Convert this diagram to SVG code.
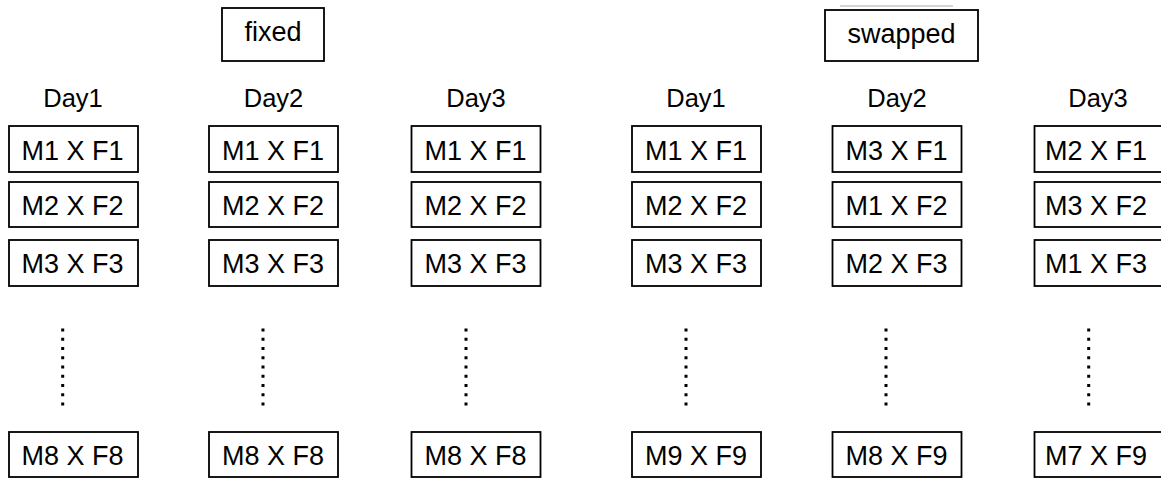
<svg xmlns="http://www.w3.org/2000/svg" width="1161" height="479" viewBox="0 0 1161 479">
<style>
rect.b{fill:#fff;stroke:#000;stroke-width:1.8}
text{font-family:"Liberation Sans",Arial,sans-serif;fill:#000;text-anchor:middle}
.t{font-size:27px}
.d{font-size:25.5px}
.h{font-size:27px}
line.dots{stroke:#000;stroke-width:3;stroke-dasharray:3 6.25}
</style>
<rect width="1161" height="479" fill="#fff"/>
<g id="label-fixed"><rect class="b" x="222" y="8" width="102" height="53"/><text class="h" x="273" y="41">fixed</text></g>
<line x1="840" y1="6" x2="953" y2="6" stroke="#aaa" stroke-width="1"/>
<g id="label-swapped"><rect class="b" x="825" y="10" width="153" height="51"/><text class="h" x="901.5" y="43">swapped</text></g>

<g id="col1">
<text class="d" x="73" y="107">Day1</text>
<g id="c1r1"><rect class="b" x="9" y="126" width="129" height="46"/><text class="t" x="72.5" y="159.5">M1 X F1</text></g>
<g id="c1r2"><rect class="b" x="9" y="182" width="129" height="45"/><text class="t" x="72.5" y="214.5">M2 X F2</text></g>
<g id="c1r3"><rect class="b" x="9" y="240" width="129" height="46"/><text class="t" x="72.5" y="273">M3 X F3</text></g>
<g id="c1r8"><rect class="b" x="9" y="432" width="129" height="45"/><text class="t" x="72.5" y="464.5">M8 X F8</text></g>
</g>
<g id="col2">
<text class="d" x="273.5" y="107">Day2</text>
<g id="c2r1"><rect class="b" x="209" y="126" width="129" height="46"/><text class="t" x="273" y="159.5">M1 X F1</text></g>
<g id="c2r2"><rect class="b" x="209" y="182" width="129" height="45"/><text class="t" x="273" y="214.5">M2 X F2</text></g>
<g id="c2r3"><rect class="b" x="209" y="240" width="129" height="46"/><text class="t" x="273" y="273">M3 X F3</text></g>
<g id="c2r8"><rect class="b" x="209" y="432" width="129" height="45"/><text class="t" x="273" y="464.5">M8 X F8</text></g>
</g>
<g id="col3">
<text class="d" x="476" y="107">Day3</text>
<g id="c3r1"><rect class="b" x="411.5" y="126" width="129" height="46"/><text class="t" x="475.5" y="159.5">M1 X F1</text></g>
<g id="c3r2"><rect class="b" x="411.5" y="182" width="129" height="45"/><text class="t" x="475.5" y="214.5">M2 X F2</text></g>
<g id="c3r3"><rect class="b" x="411.5" y="240" width="129" height="46"/><text class="t" x="475.5" y="273">M3 X F3</text></g>
<g id="c3r8"><rect class="b" x="411.5" y="432" width="129" height="45"/><text class="t" x="475.5" y="464.5">M8 X F8</text></g>
</g>
<g id="col4">
<text class="d" x="696" y="107">Day1</text>
<g id="c4r1"><rect class="b" x="632" y="126" width="129" height="46"/><text class="t" x="696" y="159.5">M1 X F1</text></g>
<g id="c4r2"><rect class="b" x="632" y="182" width="129" height="45"/><text class="t" x="696" y="214.5">M2 X F2</text></g>
<g id="c4r3"><rect class="b" x="632" y="240" width="129" height="46"/><text class="t" x="696" y="273">M3 X F3</text></g>
<g id="c4r8"><rect class="b" x="632" y="432" width="129" height="45"/><text class="t" x="696" y="464.5">M9 X F9</text></g>
</g>
<g id="col5">
<text class="d" x="897" y="107">Day2</text>
<g id="c5r1"><rect class="b" x="832.5" y="126" width="129" height="46"/><text class="t" x="896.5" y="159.5">M3 X F1</text></g>
<g id="c5r2"><rect class="b" x="832.5" y="182" width="129" height="45"/><text class="t" x="896.5" y="214.5">M1 X F2</text></g>
<g id="c5r3"><rect class="b" x="832.5" y="240" width="129" height="46"/><text class="t" x="896.5" y="273">M2 X F3</text></g>
<g id="c5r8"><rect class="b" x="832.5" y="432" width="129" height="45"/><text class="t" x="896.5" y="464.5">M8 X F9</text></g>
</g>
<g id="col6">
<text class="d" x="1098" y="107">Day3</text>
<g id="c6r1"><rect class="b" x="1034.5" y="126" width="129" height="46"/><text class="t" x="1096" y="159.5">M2 X F1</text></g>
<g id="c6r2"><rect class="b" x="1034.5" y="182" width="129" height="45"/><text class="t" x="1096" y="214.5">M3 X F2</text></g>
<g id="c6r3"><rect class="b" x="1034.5" y="240" width="129" height="46"/><text class="t" x="1096" y="273">M1 X F3</text></g>
<g id="c6r8"><rect class="b" x="1034.5" y="432" width="129" height="45"/><text class="t" x="1096" y="464.5">M7 X F9</text></g>
</g>

<g id="connectors">
<line class="dots" x1="62.7" y1="328.5" x2="62.7" y2="406"/>
<line class="dots" x1="263" y1="328.5" x2="263" y2="406"/>
<line class="dots" x1="466" y1="328.5" x2="466" y2="406"/>
<line class="dots" x1="686" y1="328.5" x2="686" y2="406"/>
<line class="dots" x1="886" y1="328.5" x2="886" y2="406"/>
<line class="dots" x1="1088.7" y1="328.5" x2="1088.7" y2="406"/>
</g>
</svg>
